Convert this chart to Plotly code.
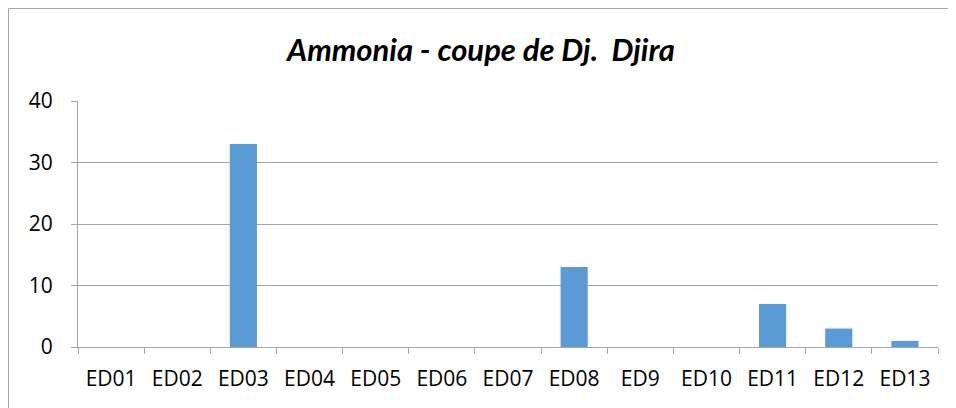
import plotly.graph_objects as go

stations = ["ED01", "ED02", "ED03", "ED04", "ED05", "ED06", "ED07",
            "ED08", "ED9", "ED10", "ED11", "ED12", "ED13"]
ammonia = [0, 0, 33, 0, 0, 0, 0, 13, 0, 0, 7, 3, 1]

fig = go.Figure(go.Bar(
    x=stations, y=ammonia,
    marker=dict(color="#5B9BD5", line=dict(width=0)),
))

# the page adds an 8px body margin, so the figure is a bit smaller than the window
fig.update_layout(
    width=948, height=400,
    margin=dict(l=70, r=18, t=93, b=61),
    paper_bgcolor="white", plot_bgcolor="white",
    font=dict(family="Open Sans", size=21, color="black"),
    bargap=0.59,
    showlegend=False,
    title=dict(text="<b><i>Ammonia - coupe de Dj.  Djira</i></b>",
               x=473 / 948, xref="container", xanchor="center",
               y=1 - 42 / 400, yref="container", yanchor="middle",
               font=dict(size=31, family="Lato")),
)

fig.update_xaxes(
    showgrid=False, showline=True, linecolor="#A6A6A6", linewidth=1,
    ticks="outside", tickson="boundaries", ticklen=6, tickcolor="#A6A6A6",
    ticklabelstandoff=13,
)
fig.update_yaxes(
    range=[0, 40], dtick=10,
    showgrid=True, gridcolor="#A6A6A6", gridwidth=1,
    showline=True, linecolor="#A6A6A6", linewidth=1,
    ticks="outside", ticklen=6, tickcolor="#A6A6A6",
    ticklabelstandoff=14, zeroline=False,
)

# outer chart border: only the left and top edges are inside the crop
bx = (0.5 - 70) / 860
by = 1 + 92.5 / 246
fig.add_shape(type="line", xref="paper", yref="paper",
              x0=bx, x1=bx, y0=-0.6, y1=by,
              line=dict(color="#A6A6A6", width=1), layer="below")
fig.add_shape(type="line", xref="paper", yref="paper",
              x0=bx, x1=1.2, y0=by, y1=by,
              line=dict(color="#A6A6A6", width=1), layer="below")

fig.write_html("out.html")
